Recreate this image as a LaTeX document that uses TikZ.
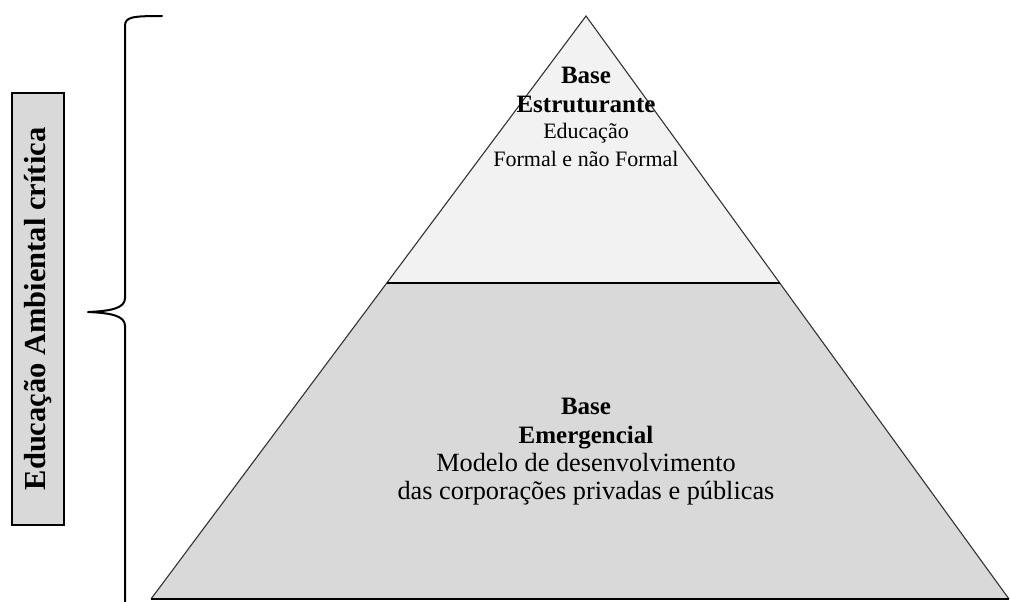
\documentclass[tikz,border=0pt]{standalone}
\usepackage{fontspec}
\setmainfont{Liberation Serif}
\usetikzlibrary{calc}
\definecolor{toplayer}{HTML}{F2F2F2}
\definecolor{baselayer}{HTML}{D9D9D9}
\begin{document}
\begin{tikzpicture}[x=1pt,y=-1pt,
  edge/.style={draw=black!80,line width=1.1pt},
  label/.style={align=center,inner sep=0pt,anchor=base},
  boldtxt/.style={font=\fontsize{25}{28}\selectfont\bfseries},
  normtxt/.style={font=\fontsize{22}{28}\selectfont},
  bignorm/.style={font=\fontsize{26.3}{28}\selectfont}]
\useasboundingbox (0,0) rectangle (1010,602);
% pyramid corners
\coordinate (apex) at (586,16);
\coordinate (bl) at (151,599);
\coordinate (br) at (1009,599);
\coordinate (ml) at ($(apex)!0.458!(bl)$);
\coordinate (mr) at ($(apex)!0.458!(br)$);
% layers
\fill[baselayer] (ml) -- (mr) -- (br) -- (bl) -- cycle;
\fill[toplayer] (apex) -- (mr) -- (ml) -- cycle;
\draw[edge] (bl) -- (apex) -- (br);
\draw[edge,draw=black] (ml) -- (mr);
\draw[black,line width=2pt] (bl) -- (br);
% texts of the layers (placed on their baselines)
\node[label,boldtxt] (t1) at (586,84) {Base};
\node[label,boldtxt] (t2) at (586,112) {Estruturante};
\node[label,normtxt] (t3) at (586,139) {Educação};
\node[label,normtxt] (t4) at (586,166) {Formal e não Formal};
\node[label,boldtxt] (b1) at (586,414) {Base};
\node[label,boldtxt] (b2) at (586,443) {Emergencial};
\node[label,bignorm] (b3) at (586,471) {Modelo de desenvolvimento};
\node[label,bignorm] (b4) at (586,499) {das corporações privadas e públicas};
% brace
\draw[black,line width=2pt,line cap=round]
  (162,16) .. controls (132,16) and (125,17) .. (125,26) -- (125,298)
  .. controls (125,308) and (112,311) .. (88,312);
\draw[black,line width=2pt]
  (88,312) .. controls (112,313) and (125,316) .. (125,326) -- (125,602);
% side label
\node[draw=black,line width=2pt,fill=baselayer,minimum width=52pt,minimum height=432pt,inner sep=0pt] (side) at (38,309) {};
\node[rotate=90,font=\fontsize{30.5}{32}\selectfont\bfseries] (sidetxt) at (side.center) {Educação Ambiental crítica};
\end{tikzpicture}
\end{document}
